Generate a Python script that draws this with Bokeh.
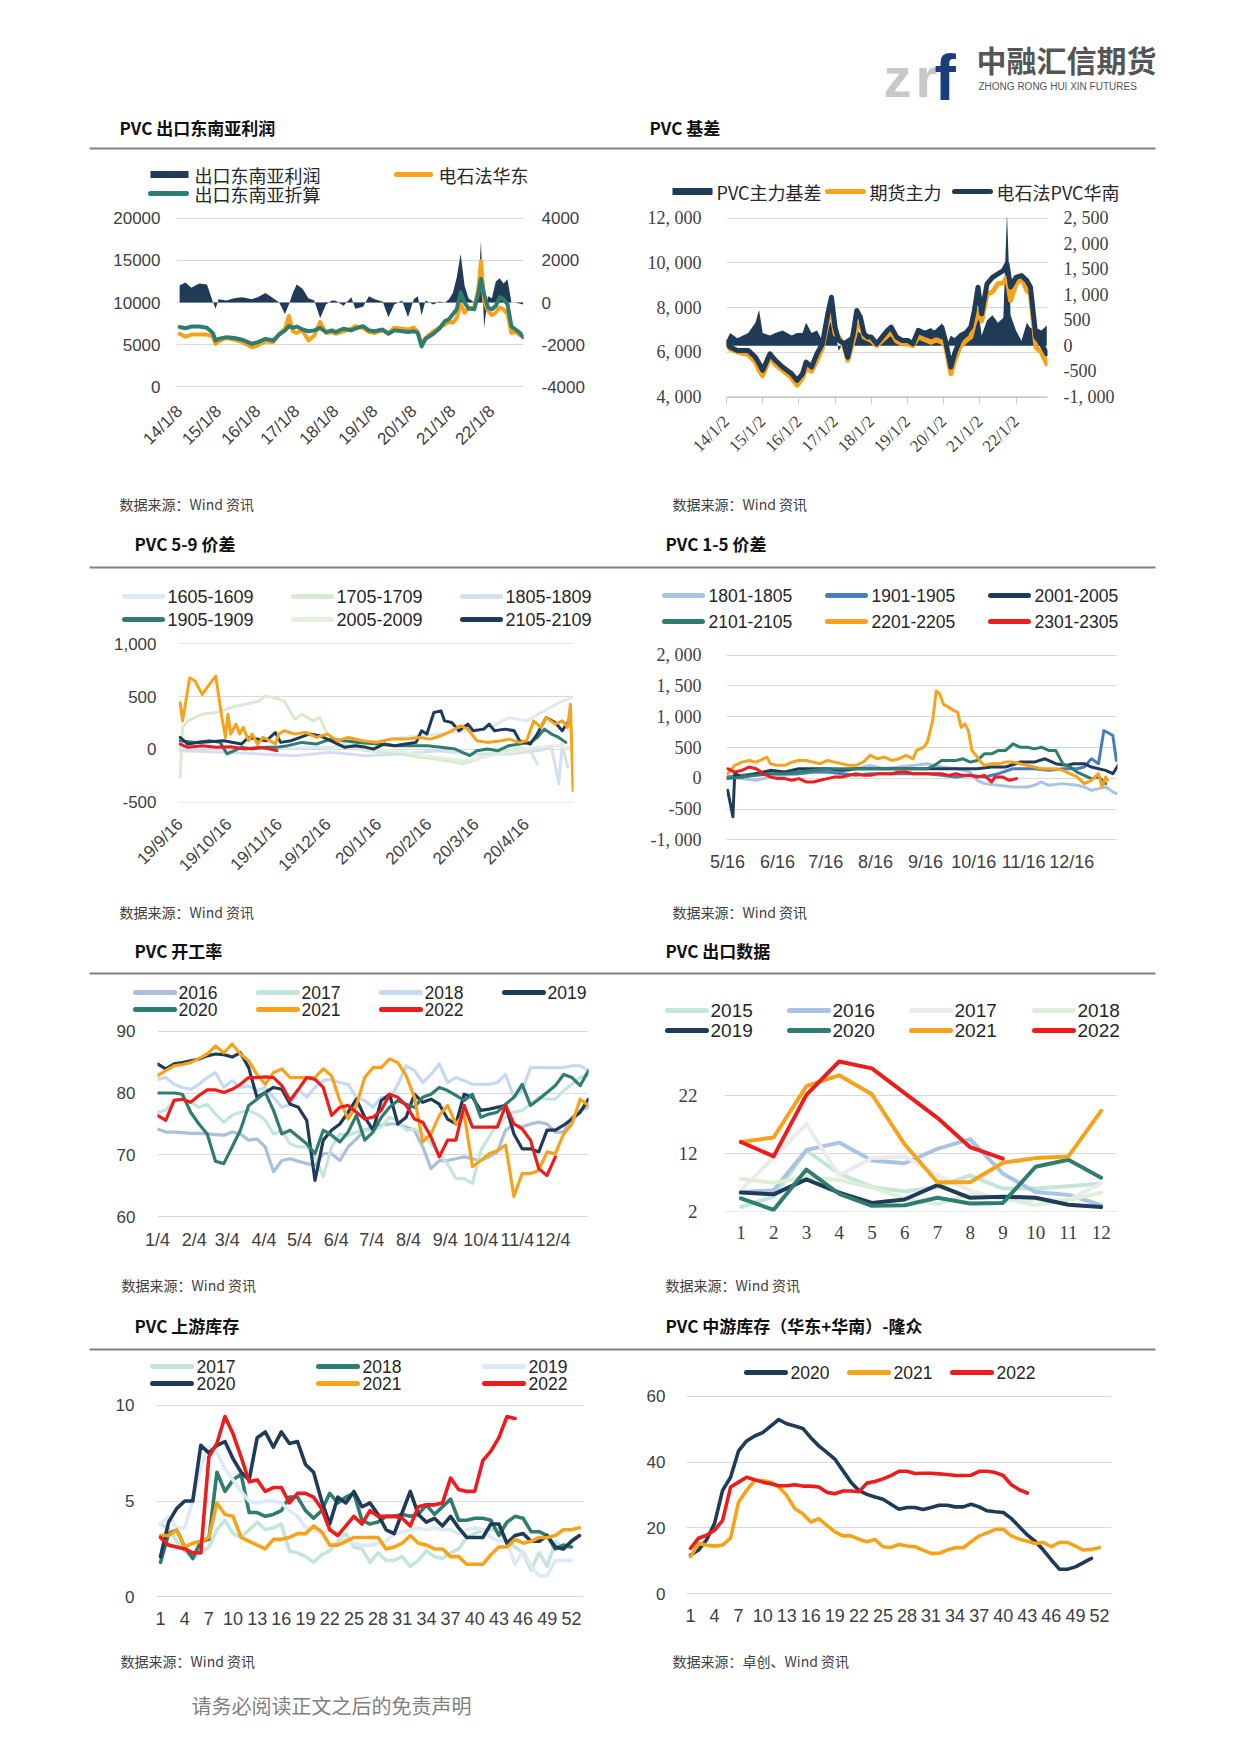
import math
from bokeh.plotting import figure
from bokeh.models import Range1d, LinearAxis, FixedTicker
from bokeh.layouts import column, row
from bokeh.embed import file_html
from bokeh.resources import INLINE
from bokeh.core.properties import value

# ======================= DATA =======================
# ---- Panel 1: PVC 出口东南亚利润 (decimal year) ----
p1_t = [2014.0, 2014.15, 2014.3, 2014.5, 2014.7, 2014.85, 2014.92, 2015.0, 2015.2, 2015.4, 2015.6, 2015.85,
        2016.0, 2016.2, 2016.4, 2016.55, 2016.7, 2016.8, 2016.9, 2017.0, 2017.15, 2017.3, 2017.45, 2017.6,
        2017.75, 2017.9, 2018.0, 2018.2, 2018.4, 2018.5, 2018.7, 2018.85, 2019.0, 2019.2, 2019.35, 2019.5,
        2019.7, 2019.85, 2020.0, 2020.1, 2020.2, 2020.3, 2020.5, 2020.65, 2020.8, 2020.9, 2021.0, 2021.1,
        2021.2, 2021.3, 2021.4, 2021.55, 2021.65, 2021.72, 2021.8, 2021.9, 2022.0, 2022.1, 2022.2, 2022.3,
        2022.4, 2022.5, 2022.6, 2022.7, 2022.8]
p1_zhesuan = [7100, 6950, 7150, 7150, 7000, 6400, 5500, 5700, 5900, 5800, 5600, 5100,
              5300, 5700, 5500, 6200, 6700, 7200, 7000, 7150, 6800, 6600, 6700, 7000,
              6500, 6700, 6500, 6900, 6700, 6900, 7200, 6700, 6600, 6800, 6300, 6700,
              6600, 6500, 6600, 6400, 4800, 5700, 6300, 6900, 7800, 8000, 8600, 9200,
              11200, 10000, 9300, 9200, 11000, 12800, 11000, 9400, 9200, 9600, 10600, 10400,
              9800, 7200, 6800, 6500, 5900]
p1_huadong = [6300, 5950, 6200, 6200, 6200, 6000, 5100, 5400, 5800, 5600, 5300, 4700,
              4900, 5400, 5300, 6300, 6900, 8400, 6600, 6400, 6700, 5500, 6100, 7700,
              6400, 6500, 6300, 6600, 6900, 7200, 7000, 6500, 6400, 6700, 6400, 7000,
              6900, 6800, 7050, 6500, 5100, 5800, 6600, 7000, 7400, 7700, 7600, 8200,
              9800, 8800, 9300, 9500, 11500, 14900, 10200, 9000, 8500, 8800, 9400, 9200,
              8600, 6400, 6500, 6200, 5900]
p1_profit = [800, 950, 700, 900, 850, 50, -300, 150, 100, 200, 250, 150,
             250, 450, 200, 0, -550, -100, 450, 850, 650, 200, 100, -750,
             -100, 100, 80, -150, 250, -300, -200, 300, 150, 50, -700, -100,
             100, -700, 150, 300, -600, 100, -100, 50, 0, 150, 450, 1200,
             2300, 800, 200, 0, 500, 2900, -1200, 300, 200, 1000, 1150, 900,
             1100, 0, 0, -50, -100]
p1_years = [2014, 2015, 2016, 2017, 2018, 2019, 2020, 2021, 2022]
p1_xlabels = ["14/1/8", "15/1/8", "16/1/8", "17/1/8", "18/1/8", "19/1/8", "20/1/8", "21/1/8", "22/1/8"]

# ---- Panel 2: PVC 基差 ----
p2_t = [2014.0, 2014.1, 2014.3, 2014.6, 2014.8, 2014.9, 2015.0, 2015.2, 2015.35, 2015.55, 2015.8, 2015.95,
        2016.1, 2016.2, 2016.35, 2016.5, 2016.65, 2016.8, 2016.9, 2017.0, 2017.1, 2017.25, 2017.35, 2017.5,
        2017.6, 2017.7, 2017.8, 2017.9, 2018.0, 2018.15, 2018.3, 2018.45, 2018.55, 2018.7, 2018.85, 2019.0,
        2019.15, 2019.3, 2019.5, 2019.65, 2019.8, 2019.95, 2020.05, 2020.2, 2020.3, 2020.45, 2020.6, 2020.75,
        2020.85, 2020.95, 2021.05, 2021.2, 2021.35, 2021.5, 2021.65, 2021.75, 2021.85, 2022.0, 2022.15, 2022.3,
        2022.4, 2022.55, 2022.7, 2022.85]
p2_huanan = [6450, 6230, 6080, 6080, 5780, 5500, 5190, 5930, 5640, 5340, 5040, 4740,
             5040, 5560, 5340, 5930, 6380, 7720, 8460, 7120, 6530, 6380, 5780, 6830,
             7870, 7570, 6830, 6680, 6680, 6380, 6680, 6980, 7120, 6680, 6530, 6530,
             6380, 6980, 6830, 6830, 6900, 7120, 6530, 5340, 5930, 6530, 6830, 7120,
             7870, 8910, 7720, 9060, 9350, 9500, 9650, 9950, 8910, 9350, 9430, 9200,
             8910, 6680, 6380, 5930]
p2_futures = [6380, 6150, 6010, 5900, 5560, 5200, 4960, 5780, 5450, 5190, 4850, 4520,
              4850, 5260, 5150, 5640, 6200, 7420, 7900, 6830, 6680, 6300, 5640, 6500,
              7120, 7300, 6680, 6600, 6530, 6300, 6530, 6750, 6900, 6500, 6380, 6380,
              6300, 6680, 6550, 6450, 6550, 6450, 6300, 5040, 5600, 6230, 6500, 6680,
              7300, 7800, 7400, 8610, 8700, 9060, 9100, 9350, 8310, 9060, 9350, 8760,
              8600, 6230, 6000, 5490]
p2_basis = [100, 250, 150, 250, 450, 700, 250, 200, 250, 300, 200, 250,
            250, 450, 250, 300, 100, 350, 500, 300, -100, 100, 150, 200,
            300, 250, 150, 100, 150, 100, 150, 300, 250, 200, 150, 150,
            100, 300, 300, 350, 250, 450, -50, 200, 150, 250, 300, 350,
            300, 750, 200, 500, 600, 450, 550, 2600, 600, 300, 100, 450,
            350, 350, 300, 400]
p2_xlabels = ["14/1/2", "15/1/2", "16/1/2", "17/1/2", "18/1/2", "19/1/2", "20/1/2", "21/1/2", "22/1/2"]

# ---- Panel 3: PVC 5-9 价差 (days since 9/16) ----
p3_2205_x = [0, 1.5, 5.9, 9.2, 13.6, 18, 21.9, 25.7, 27.9, 29.4, 31.1, 34.4, 36.6, 38.8, 42.1, 44.3, 47.6, 50.9,
             55.3, 58.6, 60.7, 64, 70.6, 77.2, 83.8, 90.4, 96.9, 103.5, 112.3, 121.1, 129.8, 138.6, 147.4, 153.9,
             160.5, 167.1, 172.6, 177, 182.5, 189, 197.8, 202.2, 208.8, 213.2, 217.5, 221.9, 225.2, 230.7, 235.1,
             238.4, 240.1, 241.7]
p3_2205_y = [443, 270, 679, 648, 522, 616, 695, 302, 113, 333, 145, 239, 145, 208, 82, 145, 50, 113,
             82, 50, 145, 176, 145, 160, 113, 145, 82, 113, 82, 66, 97, 97, 113, 97,
             129, 176, 223, 192, 82, 66, 82, 97, 66, 82, 270, 208, 302, 239, 270,
             208, 428, -390]
p3_2105_x = [0, 4.8, 11.4, 26.8, 37.7, 42.1, 53.1, 58.6, 61.8, 68.4, 79.4, 86, 92.5, 101.3, 107.9, 114.5, 118.9,
             125.4, 132, 138.6, 145.2, 148.5, 151.8, 156.1, 160.5, 162.7, 167.1, 171.5, 177, 180.3, 186.8, 190.1,
             193.4, 200, 205.5, 208.8, 215.4, 219.7, 225.2, 230.7, 235.1, 238.4]
p3_2105_y = [113, 50, 66, 82, 50, 113, 82, 160, 66, 82, 145, 129, 82, 19, 35, 19, 3,
             50, 35, 50, 66, 176, 145, 349, 365, 270, 255, 176, 239, 176, 192, 239,
             176, 192, 176, 82, 50, 145, 302, 255, 176, 255]
p3_1905_x = [0, 9.2, 18, 24.6, 28.9, 33.3, 37.7, 44.3, 53.1, 59.6, 66.2, 75, 83.8, 92.5, 101.3, 110, 121.1, 132,
             143, 151.8, 160.5, 169.3, 178.1, 182.5, 189, 195.6, 202.2, 208.8, 215.4, 219.7, 224.1, 228.5, 232.9, 237.3]
p3_1905_y = [82, 66, 82, 66, -44, -13, 19, 3, 19, 19, 35, 66, 50, 97, 82, 66, 50, 35,
             35, 35, 19, 3, -60, -13, 3, -13, 35, 50, 66, 113, 192, 145, 113, 66]
p3_2305_x = [0, 4.8, 13.6, 22.4, 31.1, 39.9, 48.7, 55.3, 59.6]
p3_2305_y = [50, 19, 35, 19, 25, 3, 19, 3, -13]
p3_1605_x = [0, 50, 92.5, 136.4, 158.3, 180, 191.2, 202.2, 213.2, 224.1, 232.9, 241.1]
p3_1605_y = [19, 10, 19, 113, 145, 180, 208, 302, 270, 365, 443, 491]
p3_1705_x = [0, 1.5, 4.8, 13.6, 22.4, 31.1, 39.9, 48.7, 52, 57.5, 64, 70.6, 75, 81.6, 86, 90.4, 96.9, 105.7,
             114.5, 125.4, 136.4, 147.4, 158.3, 169.3, 173.7, 180.3, 191.2, 202.2, 208.8, 215.4, 219.7]
p3_1705_y = [-264, 208, 270, 333, 349, 396, 428, 459, 506, 491, 459, 286, 333, 270, 302, 145, 82, 19,
             -13, -28, -44, -75, -91, -123, -138, -107, -44, -13, 19, -13, -138]
p3_1805_x = [0, 26.8, 48.7, 70.6, 92.5, 114.5, 136.4, 158.3, 180.3, 202.2, 219.7, 228.5, 232.9, 235.1, 238.4]
p3_1805_y = [-13, -28, -44, -60, -28, -60, -44, -13, -44, -44, -13, 19, -327, 50, -170]
p3_2005_x = [120, 136, 150, 165, 175, 190, 205, 220, 232, 241]
p3_2005_y = [0, -20, -60, -90, -110, -60, -20, 20, 35, 10]
p3_xticks = [0, 30, 61, 91, 122, 153, 182, 213]
p3_xlabels = ["19/9/16", "19/10/16", "19/11/16", "19/12/16", "20/1/16", "20/2/16", "20/3/16", "20/4/16"]

# ---- Panel 4: PVC 1-5 价差 (days since 5/16) ----
p4_2201_x = [0, 4.4, 8.9, 13.3, 17.7, 22.2, 24.4, 26.6, 31, 35.5, 39.9, 44.3, 48.8, 53.2, 57.6, 62.1, 66.5, 71,
             75.4, 79.8, 84.3, 88.7, 93.1, 97.6, 102, 106.4, 110.9, 115.3, 117.5, 122, 124.2, 127.5, 129.7, 131.9,
             134.1, 137.5, 140.8, 143, 145.2, 147.5, 149.7, 151.9, 155.2, 157.4, 159.6, 164.1, 168.5, 172.9, 177.4,
             181.8, 186.3, 190.7, 195.1, 199.6, 204, 208.4, 212.9, 217.3, 221.7, 226.2, 230.6, 232.8, 235, 236.1]
p4_2201_y = [75, 210, 263, 290, 263, 317, 344, 237, 210, 210, 263, 290, 290, 263, 237, 290, 263, 237,
             210, 210, 263, 371, 317, 344, 290, 317, 371, 317, 452, 505, 586, 935, 1419, 1366,
             1204, 1151, 1097, 1070, 828, 882, 774, 452, 344, 263, 210, 237, 237, 263, 263,
             237, 210, 183, 156, 156, 156, 129, 75, 22, -86, -32, 75, -140, 22, -32]
p4_2301_x = [0, 4.4, 8.9, 13.3, 17.7, 22.2, 26.6, 31, 35.5, 39.9, 44.3, 48.8, 53.2, 57.6, 62.1, 66.5, 71, 75.4,
             79.8, 84.3, 88.7, 93.1, 97.6, 102, 106.4, 110.9, 115.3, 119.7, 124.2, 128.6, 133, 137.5, 141.9, 146.3,
             150.8, 155.2, 159.6, 164.1, 166.3, 170.7, 175.2, 179.6]
p4_2301_y = [156, 102, 129, 183, 156, 75, 22, -5, -5, -32, -5, -59, -59, -32, -5, 22, 22, 48,
             75, 48, 48, 75, 75, 75, 102, 102, 75, 75, 75, 75, 75, 48, 75, 48,
             48, 22, 48, -59, 22, 22, -32, -5]
p4_2101_x = [0, 8.9, 17.7, 26.6, 35.5, 44.3, 53.2, 62.1, 71, 79.8, 88.7, 97.6, 106.4, 115.3, 124.2, 128.6, 133,
             141.9, 146.3, 150.8, 155.2, 159.6, 164.1, 168.5, 172.9, 177.4, 181.8, 186.3, 190.7, 195.1, 199.6, 204,
             206.2, 208.4, 212.9, 217.3, 221.7, 226.2, 230.6, 235]
p4_2101_y = [-5, 22, 48, 75, 75, 102, 129, 156, 156, 156, 156, 156, 156, 156, 156, 210, 290,
             290, 317, 263, 290, 398, 398, 452, 452, 559, 505, 505, 478, 505, 452, 452,
             344, 237, 183, 102, 48, -5, 22, -86]
p4_2001_x = [0, 3.3, 4.4, 8.9, 17.7, 26.6, 35.5, 44.3, 53.2, 62.1, 71, 79.8, 88.7, 97.6, 106.4, 115.3, 124.2,
             133, 141.9, 150.8, 155.2, 164.1, 172.9, 181.8, 190.7, 197.3, 204, 210.6, 215.1, 221.7, 226.2, 230.6,
             235, 239.5, 242.8]
p4_2001_y = [-194, -624, 75, 22, 75, 129, 102, 156, 156, 156, 129, 156, 156, 156, 156, 156, 156,
             156, 156, 156, 156, 183, 183, 263, 263, 317, 237, 210, 237, 237, 183, 156,
             129, 75, 210]
p4_1901_x = [0, 8.9, 17.7, 26.6, 35.5, 44.3, 53.2, 62.1, 71, 79.8, 88.7, 97.6, 106.4, 115.3, 124.2, 133, 141.9,
             150.8, 159.6, 168.5, 177.4, 181.8, 190.7, 199.6, 208.4, 217.3, 221.7, 226.2, 230.6, 233.9, 236.1,
             239.5, 241.7]
p4_1901_y = [22, 48, 75, 75, 75, 75, 102, 102, 75, 48, 75, 75, 75, 75, 75, 48, 22,
             48, 22, 75, 156, 156, 156, 129, 156, 156, 183, 317, 237, 774, 747,
             694, 290]
p4_1801_x = [0, 8.9, 17.7, 26.6, 35.5, 44.3, 53.2, 62.1, 71, 79.8, 88.7, 97.6, 106.4, 115.3, 124.2, 133, 141.9,
             150.8, 155.2, 159.6, 168.5, 177.4, 186.3, 190.7, 195.1, 199.6, 208.4, 217.3, 221.7, 226.2, 230.6,
             235, 239.5, 241.7]
p4_1801_y = [22, -5, -32, 22, 48, 75, 102, 102, 102, 156, 210, 156, 183, 210, 237, 183, 156,
             102, -32, -86, -113, -140, -140, -113, -59, -113, -86, -113, -140, -194, -167,
             -140, -220, -247]
p4_xticks = [0, 31, 61, 92, 123, 153, 184, 214]
p4_xlabels = ["5/16", "6/16", "7/16", "8/16", "9/16", "10/16", "11/16", "12/16"]

# ---- Panel 5: PVC 开工率 (weekly, from 1/4) ----
p5_2016 = [74.2, 73.7, 73.7, 73.6, 73.5, 73.5, 73.4, 73.3, 73.2, 73.7, 73.4, 72.4, 72.6, 71.3, 67.3, 69.1, 69.4,
           69.0, 68.6, 68.3, 70.2, 70.2, 69.1, 71.3, 72.6, 74.0, 74.5, 74.8, 75.0, 75.0, 74.5, 74.0, 71.3, 67.8,
           69.1, 69.1, 69.4, 69.7, 69.4, 69.1, 69.7, 70.5, 74.0, 75.0, 74.5, 75.0, 75.3, 75.0, 73.7, 73.7, 76.1,
           77.2, 77.7]
p5_2017 = [76.9, 77.2, 78.8, 79.0, 78.5, 77.7, 78.2, 76.6, 75.3, 76.4, 76.9, 77.2, 76.6, 75.6, 73.4, 73.9, 71.8,
           71.3, 71.3, 69.7, 66.5, 71.3, 73.4, 73.1, 73.7, 74.0, 74.0, 74.5, 76.1, 75.6, 74.0, 74.2, 73.4, 71.8,
           70.2, 68.6, 66.2, 66.2, 65.4, 70.7, 72.9, 75.0, 76.1, 76.9, 77.2, 78.2, 79.3, 79.0, 79.0, 80.4, 81.4,
           82.5, 83.0]
p5_2018 = [82.2, 82.5, 81.4, 80.9, 80.6, 81.4, 82.5, 83.3, 80.9, 82.0, 80.9, 81.1, 80.4, 80.9, 79.3, 77.7, 78.2,
           80.6, 79.3, 80.9, 82.0, 82.2, 81.7, 81.4, 79.3, 78.8, 77.7, 79.3, 78.8, 81.4, 84.4, 83.6, 81.7, 83.0,
           84.7, 81.7, 82.5, 82.0, 81.4, 81.4, 81.4, 81.7, 83.0, 79.3, 80.4, 84.1, 84.1, 84.1, 84.1, 84.1, 84.4,
           84.4, 83.6]
p5_2019 = [84.7, 83.9, 84.7, 84.9, 85.2, 85.5, 86.0, 86.3, 86.2, 85.8, 86.5, 84.1, 79.3, 80.1, 80.9, 80.6, 78.2,
           77.7, 75.6, 65.9, 72.4, 74.0, 75.0, 76.9, 79.0, 76.1, 74.0, 78.8, 79.8, 75.0, 76.1, 79.8, 78.5, 79.0,
           78.2, 75.8, 75.0, 79.8, 79.3, 77.2, 77.4, 77.7, 78.0, 73.4, 71.0, 71.0, 70.5, 74.0, 74.0, 74.8, 75.8,
           76.9, 79.0]
p5_2020 = [80.0, 80.0, 80.0, 79.8, 76.9, 75.0, 73.4, 69.0, 68.6, 71.3, 74.0, 78.0, 79.0, 80.1, 77.2, 73.4, 74.0,
           72.9, 71.8, 70.2, 74.0, 73.2, 72.1, 73.7, 76.4, 72.4, 73.7, 76.1, 77.7, 78.8, 78.2, 77.7, 79.3, 79.8,
           80.9, 80.4, 79.6, 78.8, 79.8, 76.1, 76.6, 76.9, 78.2, 79.3, 81.4, 78.0, 79.0, 80.1, 81.2, 83.0, 82.5,
           81.2, 83.6]
p5_2021 = [82.8, 83.6, 84.4, 84.6, 84.9, 85.6, 86.3, 87.6, 86.5, 87.9, 86.3, 85.2, 83.0, 81.4, 83.3, 83.9, 82.5,
           82.5, 82.5, 82.5, 83.9, 82.8, 78.8, 75.8, 78.0, 82.5, 84.1, 84.1, 85.5, 84.9, 82.8, 79.3, 72.1, 73.4,
           76.4, 78.0, 75.0, 76.6, 68.1, 69.1, 70.2, 70.7, 71.6, 63.3, 67.0, 67.0, 67.5, 70.5, 70.2, 73.4, 75.0,
           79.0, 78.0]
p5_2022 = [76.4, 75.6, 78.8, 79.0, 78.5, 79.6, 80.5, 80.5, 80.1, 80.6, 81.4, 82.5, 82.5, 82.6, 82.5, 81.2, 78.8,
           80.6, 82.5, 82.2, 80.9, 76.4, 77.7, 78.0, 76.9, 75.8, 76.1, 77.2, 79.8, 79.3, 78.0, 75.8, 75.3, 72.9,
           69.7, 72.4, 72.4, 78.0, 74.5, 74.5, 74.5, 74.5, 78.0, 75.0, 74.2, 72.4, 67.8, 66.7, 69.7]
p5_xticks = [0, 31, 59, 90, 120, 151, 181, 212, 243, 273, 304, 334]
p5_xlabels = ["1/4", "2/4", "3/4", "4/4", "5/4", "6/4", "7/4", "8/4", "9/4", "10/4", "11/4", "12/4"]

# ---- Panel 6: PVC 出口数据 (monthly) ----
p6_months = [1, 2, 3, 4, 5, 6, 7, 8, 9, 10, 11, 12]
p6_2015 = [2.7, 4.5, 12.5, 8.5, 6.2, 5.4, 6.2, 8.2, 5.9, 5.9, 6.3, 6.8]
p6_2016 = [5.3, 5.6, 12.6, 13.9, 10.8, 10.3, 12.8, 14.5, 8.5, 5.3, 4.8, 3.0]
p6_2017 = [5.6, 11.3, 17.1, 8.2, 11.2, 11.5, 8.2, 5.6, 3.9, 3.9, 3.9, 6.8]
p6_2018 = [7.6, 6.9, 7.9, 7.4, 6.1, 4.2, 3.2, 5.0, 4.2, 3.0, 3.9, 5.2]
p6_2019 = [5.2, 4.9, 7.5, 5.2, 3.4, 4.0, 6.5, 4.3, 4.5, 4.3, 3.1, 2.7]
p6_2020 = [4.2, 2.2, 9.2, 5.0, 2.9, 3.0, 4.3, 3.3, 3.4, 9.7, 10.9, 7.8]
p6_2021 = [14.0, 14.8, 23.7, 25.6, 22.3, 13.6, 7.0, 7.0, 10.4, 11.2, 11.5, 19.4]
p6_2022 = [14.0, 11.5, 22.2, 28.0, 26.8, 22.5, 18.2, 13.1, 11.1]

# ---- Panel 7: PVC 上游库存 (weekly) ----
p7_2017 = [3.8, 3.6, 2.9, 2.4, 2.0, 2.3, 2.6, 3.5, 4.0, 3.3, 3.1, 3.5, 3.9, 3.5, 3.6, 3.8, 2.4, 2.3, 2.1, 1.8,
           2.2, 2.4, 2.9, 3.3, 2.6, 2.5, 1.8, 2.3, 1.9, 1.9, 2.1, 1.6, 1.9, 2.4, 2.1, 2.0, 2.3, 2.5, 3.1, 3.3,
           3.5, 3.5, 3.5, 2.9, 2.6, 2.3, 1.4, 2.3, 1.6, 2.9, 2.5, 2.8]
p7_2018 = [1.8, 3.3, 3.5, 2.6, 2.0, 2.9, 3.0, 6.5, 5.5, 6.1, 6.4, 4.4, 4.4, 4.2, 4.3, 4.5, 5.2, 5.2, 4.5, 4.1,
           4.5, 5.4, 4.9, 5.2, 5.4, 4.0, 3.8, 3.9, 4.2, 4.2, 4.3, 4.2, 4.3, 4.8, 4.3, 4.7, 5.1, 4.0, 4.0, 4.1,
           4.1, 4.0, 3.2, 3.9, 4.2, 4.1, 3.4, 3.4, 3.2, 2.5, 2.7, 2.6]
p7_2019 = [3.8, 4.2, 3.6, 3.6, 5.0, 6.8, 7.8, 7.5, 6.7, 6.1, 5.5, 5.0, 4.9, 5.0, 5.0, 4.9, 4.5, 4.2, 3.6, 3.5,
           3.3, 3.5, 3.3, 2.9, 2.8, 2.7, 2.7, 2.8, 2.9, 3.3, 3.4, 3.5, 3.6, 3.5, 3.6, 3.5, 3.5, 3.3, 3.5, 3.6,
           3.5, 3.1, 2.9, 2.9, 1.7, 2.4, 1.6, 1.1, 1.1, 1.9, 1.9, 1.9]
p7_2020 = [2.1, 3.9, 4.6, 5.0, 5.0, 7.9, 7.5, 7.9, 8.1, 7.2, 6.5, 6.1, 8.3, 8.6, 7.8, 8.6, 8.0, 8.1, 6.9, 6.5,
           5.0, 3.8, 5.2, 4.9, 5.5, 4.7, 4.9, 4.3, 3.5, 3.3, 4.4, 5.5, 4.3, 3.9, 4.1, 3.7, 4.2, 3.6, 3.1, 3.1,
           3.1, 3.8, 3.8, 2.8, 3.2, 3.3, 2.9, 2.9, 3.2, 2.6, 2.5, 2.9, 3.2]
p7_2021 = [3.2, 3.2, 3.5, 2.6, 2.8, 2.9, 3.1, 4.9, 4.3, 4.2, 3.1, 2.9, 2.7, 2.5, 3.0, 3.0, 3.1, 3.3, 3.3, 3.7,
           3.4, 2.7, 2.7, 2.9, 3.1, 3.1, 3.1, 3.1, 2.5, 2.6, 2.8, 3.2, 2.8, 2.7, 2.5, 2.5, 2.1, 2.1, 1.7, 1.7,
           1.7, 2.2, 2.6, 2.6, 3.0, 2.8, 2.9, 3.1, 3.1, 3.2, 3.5, 3.5, 3.6]
p7_2022 = [3.1, 2.7, 2.6, 2.5, 2.3, 2.3, 7.3, 8.0, 9.4, 8.5, 7.3, 6.0, 6.1, 5.5, 5.7, 5.7, 4.9, 5.4, 5.4, 5.2,
           4.6, 3.5, 3.2, 3.7, 4.2, 3.8, 4.5, 4.2, 4.2, 4.2, 4.1, 3.7, 4.7, 4.8, 4.8, 4.9, 6.2, 5.6, 5.5, 5.5,
           7.1, 7.6, 8.3, 9.4, 9.3]

# ---- Panel 8: PVC 中游库存（华东+华南）-隆众 (weekly) ----
p8_2020 = [11.8, 13.3, 16.4, 21.4, 31.4, 35.4, 43.4, 46.4, 47.9, 48.9, 50.9, 52.9, 51.6, 50.9, 50.2, 47.4, 44.9,
           42.9, 40.9, 37.4, 33.9, 31.4, 30.2, 29.4, 28.7, 27.2, 25.7, 26.2, 26.2, 25.6, 26.2, 26.9, 26.9, 26.4,
           26.4, 27.2, 26.4, 25.2, 24.9, 24.7, 22.9, 20.4, 17.9, 15.9, 13.3, 10.3, 7.5, 7.5, 8.2, 9.5, 10.8]
p8_2021 = [11.3, 15.3, 14.8, 14.5, 14.8, 16.9, 27.9, 31.4, 34.4, 34.4, 33.9, 32.4, 29.9, 25.9, 24.3, 21.8, 22.8,
           20.8, 18.8, 17.6, 17.6, 16.6, 15.8, 16.5, 14.3, 14.1, 15.0, 14.5, 14.3, 13.3, 12.3, 12.3, 13.3, 14.0,
           14.0, 15.8, 17.6, 18.5, 19.6, 19.6, 17.6, 16.6, 16.0, 15.3, 15.6, 14.3, 15.6, 15.6, 14.5, 13.3, 13.5, 14.1]
p8_2022 = [13.8, 16.9, 17.8, 19.3, 22.3, 32.4, 33.9, 35.4, 34.6, 33.9, 33.4, 32.8, 32.8, 33.1, 32.7, 32.7, 32.4,
           30.8, 30.4, 31.2, 31.2, 31.0, 33.6, 34.1, 34.9, 35.9, 37.2, 37.2, 36.5, 36.6, 36.6, 36.4, 36.2, 35.9,
           35.9, 36.0, 37.2, 37.2, 36.8, 35.9, 33.1, 31.6, 30.6]
week_ticks = [1, 4, 7, 10, 13, 16, 19, 22, 25, 28, 31, 34, 37, 40, 43, 46, 49, 52]

# ======================= STYLE =======================
NAVY = "#1f3b57"
TEAL = "#2e7d6e"
ORANGE = "#f7a21b"
RED = "#ee1c1c"
GRID = "#d9d9d9"
TXT = "#404040"
SANS = "Liberation Sans"
SERIF = "Liberation Serif"
CJK = "Noto Sans CJK SC"
PAGE_W = 1241


def pad(a, b):
    e = (b - a) * 0.003
    return (a - e, b + e)


def chart(w, h, bl, br, bt, bb, xr, yrng):
    p = figure(width=w, height=h, x_range=Range1d(*xr), y_range=Range1d(*pad(*yrng)),
               output_backend="svg", toolbar_location=None, frame_align=False,
               min_border_left=bl, min_border_right=br, min_border_top=bt, min_border_bottom=bb)
    p.title.visible = False
    p.outline_line_color = None
    p.border_fill_color = "white"
    p.background_fill_color = "white"
    p.xgrid.visible = False
    p.ygrid.grid_line_color = GRID
    p.ygrid.grid_line_width = 1
    return p


def fmt_axis(ax, ticks, labels=None, font=SANS, size="17px", standoff=10, color=TXT):
    ax.ticker = FixedTicker(ticks=ticks)
    if labels is not None:
        ax.major_label_overrides = {t: l for t, l in zip(ticks, labels)}
    ax.axis_line_color = None
    ax.major_tick_line_color = None
    ax.minor_tick_line_color = None
    ax.major_tick_in = 0
    ax.major_tick_out = 0
    ax.minor_tick_in = 0
    ax.minor_tick_out = 0
    ax.major_label_text_font = font
    ax.major_label_text_font_size = size
    ax.major_label_text_color = color
    ax.major_label_standoff = standoff


def yaxis(p, ticks, labels=None, font=SANS, size="17px", standoff=20):
    ax = p.yaxis[0]
    fmt_axis(ax, ticks, labels, font, size, standoff)
    p.ygrid.ticker = ax.ticker


def ln(p, x, y, color, width=3, **kw):
    assert len(x) == len(y), (len(x), len(y))
    return p.line(x, y, line_color=color, line_width=width, line_join="round", line_cap="round", **kw)


def band(x0, x1, y0, y1):
    """Decoration strip whose data coordinates are the page pixel coordinates."""
    p = figure(width=x1 - x0, height=y1 - y0, x_range=Range1d(x0, x1), y_range=Range1d(y1, y0),
               output_backend="svg", toolbar_location=None, min_border=0, frame_align=False,
               x_axis_location=None, y_axis_location=None)
    p.title.visible = False
    p.outline_line_color = None
    p.grid.visible = False
    p.border_fill_color = "white"
    p.background_fill_color = "white"
    return p


def legend_row(p, y, entries, size="17.5px", font=SANS, gw=42, standoff=3):
    """entries: (glyph_x, label, color, kind)"""
    for gx, label, color, kind in entries:
        if kind == "bar":
            p.quad(left=[gx], right=[gx + gw], top=[y - 3.5], bottom=[y + 3.5], fill_color=color, line_color=None)
        else:
            p.segment(x0=[gx + 2], y0=[y], x1=[gx + gw - 2], y1=[y], line_color=color, line_width=5,
                      line_cap="round")
        p.text(x=[gx + gw + standoff], y=[y], text=[label], text_font=value(font), text_font_size=size,
               text_color="#262626", text_baseline="middle", text_align="left")


def titles(p, y, xl, left, xr, right, rule_y):
    p.text(x=[xl, xr], y=[y, y], text=[left, right], text_font=value(CJK), text_font_size="17px",
           text_font_style="bold", text_color="#111111", text_baseline="middle", text_align="left")
    p.segment(x0=[89], y0=[rule_y], x1=[1155], y1=[rule_y], line_color="#808080", line_width=2)


def notes(p, y, xl, xr, left="数据来源：Wind 资讯", right="数据来源：Wind 资讯"):
    p.text(x=[xl, xr], y=[y, y], text=[left, right], text_font=value(CJK), text_font_size="14px",
           text_color="#404040", text_baseline="middle", text_align="left")


# ======================= PANEL 1 =======================
p1 = chart(620, 284, 176, 97, 11, 103, (2013.92, 2022.81), (0, 20000))
p1.extra_y_ranges = {"r": Range1d(*pad(-4000, 4000))}
yaxis(p1, [0, 5000, 10000, 15000, 20000], standoff=16)
ra1 = LinearAxis(y_range_name="r")
fmt_axis(ra1, [-4000, -2000, 0, 2000, 4000], ["-4000", "-2000", "0", "2000", "4000"], standoff=18)
p1.add_layout(ra1, "right")
fmt_axis(p1.xaxis[0], p1_years, p1_xlabels, standoff=21)
p1.xaxis[0].major_label_orientation = math.pi / 4
assert len(p1_t) == len(p1_profit) == len(p1_huadong) == len(p1_zhesuan)
p1.varea(x=p1_t, y1=0, y2=p1_profit, y_range_name="r", fill_color=NAVY)
ln(p1, p1_t, p1_huadong, ORANGE, 4)
ln(p1, p1_t, p1_zhesuan, TEAL, 4)
L1 = band(0, 620, 160, 206)
legend_row(L1, 174, [(150, "出口东南亚利润", NAVY, "bar"), (394, "电石法华东", ORANGE, "line")],
           size="18px", font=CJK, gw=38, standoff=6)
legend_row(L1, 193, [(148, "出口东南亚折算", TEAL, "line")], size="18px", font=CJK, gw=40, standoff=6)

# ======================= PANEL 2 =======================
p2 = chart(621, 284, 106, 194, 11, 93, (2014.0, 2022.87), (4000, 12000))
p2.extra_y_ranges = {"r": Range1d(*pad(-1000, 2500))}
yaxis(p2, [4000, 6000, 8000, 10000, 12000], ["4, 000", "6, 000", "8, 000", "10, 000", "12, 000"],
      font=SERIF, size="18px", standoff=25)
ra2 = LinearAxis(y_range_name="r")
fmt_axis(ra2, [-1000, -500, 0, 500, 1000, 1500, 2000, 2500],
         ["-1, 000", "-500", "0", "500", "1, 000", "1, 500", "2, 000", "2, 500"],
         font=SERIF, size="18px", standoff=16)
p2.add_layout(ra2, "right")
xa2 = p2.xaxis[0]
fmt_axis(xa2, p1_years, p2_xlabels, font=SERIF, size="17px", standoff=15)
xa2.major_label_orientation = math.pi / 4
xa2.axis_line_color = "#c8c8c8"
xa2.major_tick_line_color = "#c8c8c8"
xa2.major_tick_out = 6
assert len(p2_t) == len(p2_basis) == len(p2_futures) == len(p2_huanan)
p2.varea(x=p2_t, y1=0, y2=p2_basis, y_range_name="r", fill_color=NAVY)
ln(p2, p2_t, p2_futures, ORANGE, 5)
ln(p2, p2_t, p2_huanan, NAVY, 5)
R1 = band(620, 1241, 160, 206)
legend_row(R1, 191, [(672, "PVC主力基差", NAVY, "bar"), (825, "期货主力", ORANGE, "line"),
                     (952, "电石法PVC华南", NAVY, "line")], size="18px", font=CJK, gw=40, standoff=4)

# ======================= PANEL 3 =======================
p3 = chart(620, 265, 178, 47, 11, 95, (-1, 242), (-500, 1000))
yaxis(p3, [-500, 0, 500, 1000], ["-500", "0", "500", "1,000"], standoff=22)
fmt_axis(p3.xaxis[0], p3_xticks, p3_xlabels, standoff=19)
p3.xaxis[0].major_label_orientation = math.pi / 4
C1605, C1705, C1805, C2005 = "#dde9f6", "#d9ead1", "#d6dff0", "#e4f0dc"
ln(p3, p3_1605_x, p3_1605_y, C1605, 3)
ln(p3, p3_1705_x, p3_1705_y, C1705, 3)
ln(p3, p3_1805_x, p3_1805_y, C1805, 3)
ln(p3, p3_2005_x, p3_2005_y, C2005, 3)
ln(p3, p3_1905_x, p3_1905_y, TEAL, 3)
ln(p3, p3_2105_x, p3_2105_y, NAVY, 3)
ln(p3, p3_2205_x, p3_2205_y, ORANGE, 3)
ln(p3, p3_2305_x, p3_2305_y, RED, 3)
L2 = band(0, 620, 580, 632)
legend_row(L2, 596, [(122, "1605-1609", C1605, "line"), (291, "1705-1709", C1705, "line"),
                     (460, "1805-1809", C1805, "line")], size="18px")
legend_row(L2, 619, [(122, "1905-1909", TEAL, "line"), (291, "2005-2009", C2005, "line"),
                     (460, "2105-2109", NAVY, "line")], size="18px")

# ======================= PANEL 4 =======================
p4 = chart(621, 262, 106, 124, 19, 57, (-0.7, 242.4), (-1000, 2000))
yaxis(p4, [-1000, -500, 0, 500, 1000, 1500, 2000],
      ["-1, 000", "-500", "0", "500", "1, 000", "1, 500", "2, 000"], font=SERIF, size="18px", standoff=25)
fmt_axis(p4.xaxis[0], p4_xticks, p4_xlabels, size="18px", standoff=11)
C1801, C1901 = "#a9c4e2", "#4a7ebb"
ln(p4, p4_1801_x, p4_1801_y, C1801, 3)
ln(p4, p4_1901_x, p4_1901_y, C1901, 3)
ln(p4, p4_2001_x, p4_2001_y, NAVY, 3)
ln(p4, p4_2101_x, p4_2101_y, TEAL, 3)
ln(p4, p4_2201_x, p4_2201_y, ORANGE, 3)
ln(p4, p4_2301_x, p4_2301_y, RED, 3)
R2 = band(620, 1241, 580, 635)
legend_row(R2, 595, [(662, "1801-1805", C1801, "line"), (825, "1901-1905", C1901, "line"),
                     (988, "2001-2005", NAVY, "line")], size="17.5px", standoff=4)
legend_row(R2, 621, [(662, "2101-2105", TEAL, "line"), (825, "2201-2205", ORANGE, "line"),
                     (988, "2301-2305", RED, "line")], size="17.5px", standoff=4)

# ======================= PANEL 5 =======================
p5 = chart(620, 250, 157, 32, 10, 53, (0, 364), (60, 90))
yaxis(p5, [60, 70, 80, 90], standoff=22)
fmt_axis(p5.xaxis[0], p5_xticks, p5_xlabels, size="18px", standoff=12)
C5 = {"2016": "#a9bfdb", "2017": "#c4e6da", "2018": "#c5d9f0", "2019": NAVY, "2020": TEAL,
      "2021": ORANGE, "2022": RED}
for name, ys in [("2016", p5_2016), ("2017", p5_2017), ("2018", p5_2018), ("2019", p5_2019),
                 ("2020", p5_2020), ("2021", p5_2021), ("2022", p5_2022)]:
    ln(p5, [7 * i for i in range(len(ys))], ys, C5[name], 3.2)
L3 = band(0, 620, 980, 1020)
legend_row(L3, 992, [(133, "2016", C5["2016"], "line"), (256, "2017", C5["2017"], "line"),
                     (379, "2018", C5["2018"], "line"), (502, "2019", C5["2019"], "line")], gw=43, standoff=2)
legend_row(L3, 1009, [(133, "2020", C5["2020"], "line"), (256, "2021", C5["2021"], "line"),
                      (379, "2022", C5["2022"], "line")], gw=43, standoff=2)

# ======================= PANEL 6 =======================
p6 = chart(621, 227, 104, 124, 6, 59, (0.5, 12.5), (2, 30))
yaxis(p6, [2, 12, 22], font=SERIF, size="19px", standoff=27)
fmt_axis(p6.xaxis[0], p6_months, font=SERIF, size="19px", standoff=14)
C6 = {"2015": "#c4e6da", "2016": "#a9c4e2", "2017": "#ebebeb", "2018": "#dfeed8", "2019": NAVY,
      "2020": TEAL, "2021": ORANGE, "2022": RED}
for name, ys in [("2015", p6_2015), ("2016", p6_2016), ("2017", p6_2017), ("2018", p6_2018),
                 ("2019", p6_2019), ("2020", p6_2020), ("2021", p6_2021), ("2022", p6_2022)]:
    ln(p6, p6_months[:len(ys)], ys, C6[name], 4)
R3 = band(620, 1241, 980, 1043)
legend_row(R3, 1010, [(665, "2015", C6["2015"], "line"), (787, "2016", C6["2016"], "line"),
                      (909, "2017", C6["2017"], "line"), (1032, "2018", C6["2018"], "line")],
           size="19px", gw=43, standoff=2)
legend_row(R3, 1030, [(665, "2019", C6["2019"], "line"), (787, "2020", C6["2020"], "line"),
                      (909, "2021", C6["2021"], "line"), (1032, "2022", C6["2022"], "line")],
           size="19px", gw=43, standoff=2)

# ======================= PANEL 7 =======================
p7 = chart(620, 251, 156, 37, 10, 48, (0.5, 53.5), (0, 10))
yaxis(p7, [0, 5, 10], standoff=22)
fmt_axis(p7.xaxis[0], week_ticks, size="18px", standoff=14)
C7 = {"2017": "#c4e6da", "2018": TEAL, "2019": "#dde9f6", "2020": NAVY, "2021": ORANGE, "2022": RED}
for name, ys in [("2017", p7_2017), ("2018", p7_2018), ("2019", p7_2019), ("2020", p7_2020),
                 ("2021", p7_2021), ("2022", p7_2022)]:
    ln(p7, list(range(1, len(ys) + 1)), ys, C7[name], 3.6)
L4 = band(0, 620, 1354, 1394)
legend_row(L4, 1366, [(150, "2017", C7["2017"], "line"), (316, "2018", C7["2018"], "line"),
                      (482, "2019", C7["2019"], "line")], gw=43, standoff=3)
legend_row(L4, 1383, [(150, "2020", C7["2020"], "line"), (316, "2021", C7["2021"], "line"),
                      (482, "2022", C7["2022"], "line")], gw=43, standoff=3)

# ======================= PANEL 8 =======================
p8 = chart(621, 260, 66, 130, 10, 51, (0.5, 53.5), (0, 60))
yaxis(p8, [0, 20, 40, 60], standoff=21)
fmt_axis(p8.xaxis[0], week_ticks, size="18px", standoff=14)
C8 = {"2020": NAVY, "2021": ORANGE, "2022": RED}
for name, ys in [("2020", p8_2020), ("2021", p8_2021), ("2022", p8_2022)]:
    ln(p8, list(range(1, len(ys) + 1)), ys, C8[name], 3.6)
R4 = band(620, 1241, 1354, 1385)
legend_row(R4, 1372, [(744, "2020", NAVY, "line"), (847, "2021", ORANGE, "line"),
                      (950, "2022", RED, "line")], gw=43, standoff=3)

# ======================= FULL-WIDTH BANDS =======================
bA = band(0, PAGE_W, 0, 160)
bA.text(x=[883], y=[77], text=["z"], text_font=value(SANS), text_font_size="56px", text_font_style="bold",
        text_color="#c8c8c8", text_baseline="alphabetic", text_align="left")
bA.text(x=[915], y=[77], text=["r"], text_font=value(SANS), text_font_size="56px", text_font_style="bold",
        text_color="#c8c8c8", text_baseline="alphabetic", text_align="left")
bA.text(x=[934], y=[77], text=["f"], text_font=value(SANS), text_font_size="64px", text_font_style="bold",
        text_color="#1a3e7a", text_baseline="alphabetic", text_align="left")
bA.text(x=[976], y=[58], text=["中融汇信期货"], text_font=value(CJK), text_font_size="30px",
        text_font_style="bold", text_color="#555555", text_baseline="middle", text_align="left")
bA.text(x=[978], y=[86], text=["ZHONG RONG HUI XIN FUTURES"], text_font=value(SANS), text_font_size="10px",
        text_color="#555555", text_baseline="middle", text_align="left")
titles(bA, 127, 119, "PVC 出口东南亚利润", 649, "PVC 基差", 148)

bB = band(0, PAGE_W, 490, 580)
notes(bB, 503, 119, 672)
titles(bB, 543, 134, "PVC 5-9 价差", 665, "PVC 1-5 价差", 567)

bC = band(0, PAGE_W, 897, 980)
notes(bC, 911, 119, 672)
titles(bC, 950, 134, "PVC 开工率", 665, "PVC 出口数据", 973)

bD = band(0, PAGE_W, 1270, 1354)
notes(bD, 1284, 121, 665)
titles(bD, 1325, 134, "PVC 上游库存", 665, "PVC 中游库存（华东+华南）-隆众", 1349)

bE = band(0, PAGE_W, 1645, 1750)
notes(bE, 1660, 120, 672, right="数据来源：卓创、Wind 资讯")
bE.text(x=[191], y=[1705], text=["请务必阅读正文之后的免责声明"], text_font=value(CJK), text_font_size="20px",
        text_color="#7f7f7f", text_baseline="middle", text_align="left")

layout = column(
    bA,
    row(column(L1, p1), column(R1, p2)),
    bB,
    row(column(L2, p3), column(R2, p4)),
    bC,
    row(column(L3, p5), column(R3, p6)),
    bD,
    row(column(L4, p7), column(R4, p8)),
    bE,
)

open("out.html", "w").write(file_html(layout, INLINE, title="PVC"))
